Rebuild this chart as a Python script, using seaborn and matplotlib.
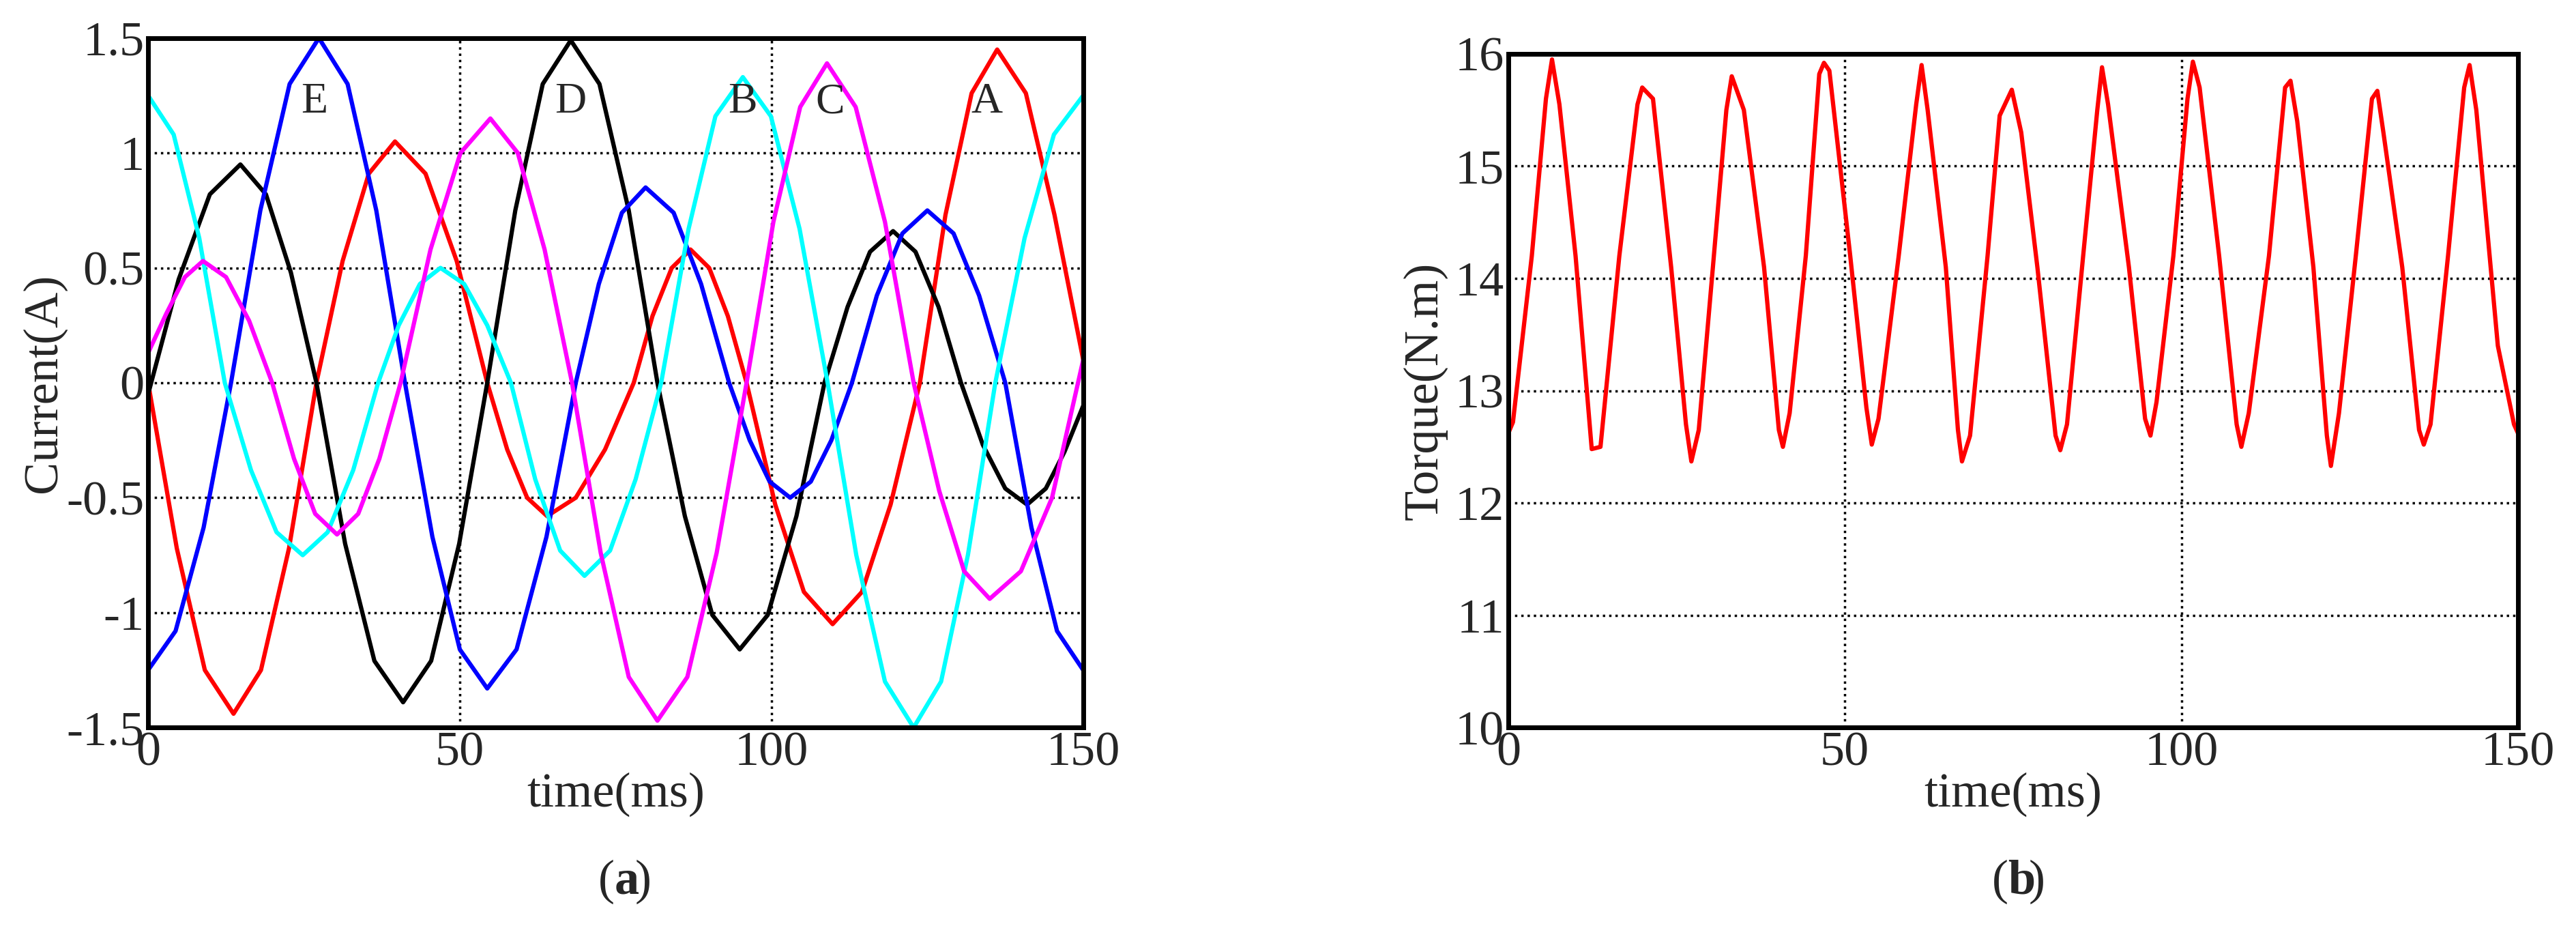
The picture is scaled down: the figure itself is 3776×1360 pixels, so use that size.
import matplotlib
matplotlib.use("Agg")
import matplotlib.pyplot as plt
import pandas as pd
import seaborn as sns

# phase currents
red_t = [0, 4.6, 9.1, 13.7, 18.1, 22.6, 27, 31.2, 35.4, 39.6, 44.5, 49.5, 54.4, 57.6, 60.8, 64, 68.6, 73.3, 77.9,
         80.9, 84, 87, 90, 93, 96, 100.6, 105.2, 109.8, 114.5, 119.1, 123.8, 127.9, 132.1, 136.2, 140.8, 145.4, 150]
red_i = [0, -0.72, -1.25, -1.44, -1.25, -0.72, 0, 0.53, 0.91, 1.05, 0.91, 0.53, 0, -0.29, -0.5, -0.58, -0.5, -0.29, 0,
         0.29, 0.5, 0.58, 0.5, 0.29, 0, -0.53, -0.91, -1.05, -0.91, -0.53, 0, 0.73, 1.26, 1.45, 1.26, 0.73, 0.1]

black_t = [0, 4.9, 9.9, 14.8, 18.9, 22.9, 27, 31.6, 36.3, 40.9, 45.4, 49.9, 54.4, 58.9, 63.3, 67.8, 72.4, 77.1, 81.7,
           86.1, 90.5, 94.9, 99.4, 104, 108.5, 112.2, 115.8, 119.5, 123.1, 126.8, 130.4, 133.9, 137.5, 141, 144, 147, 150]
black_i = [-0.05, 0.45, 0.82, 0.95, 0.82, 0.48, 0, -0.7, -1.21, -1.39, -1.21, -0.7, 0, 0.75, 1.3, 1.49, 1.3, 0.75, 0,
           -0.58, -1.01, -1.16, -1.01, -0.58, 0, 0.33, 0.57, 0.66, 0.57, 0.33, 0, -0.27, -0.46, -0.53, -0.46, -0.3, -0.1]

blue_t = [0, 4.4, 8.9, 13.3, 18, 22.7, 27.4, 32, 36.6, 41.2, 45.6, 50, 54.4, 59.1, 63.9, 68.6, 72.3, 76, 79.8,
          84.3, 88.7, 93.2, 96.5, 99.7, 103, 106.3, 109.6, 112.9, 116.9, 121, 125, 129.2, 133.3, 137.5, 141.7, 145.8, 150]
blue_i = [-1.25, -1.08, -0.63, 0, 0.75, 1.3, 1.5, 1.3, 0.75, 0, -0.67, -1.16, -1.33, -1.16, -0.67, 0, 0.43, 0.74, 0.85,
          0.74, 0.43, 0, -0.25, -0.43, -0.5, -0.43, -0.25, 0, 0.38, 0.65, 0.75, 0.65, 0.38, 0, -0.63, -1.08, -1.25]

cyan_t = [0, 4.1, 8.2, 12.3, 16.5, 20.6, 24.8, 28.8, 32.9, 36.9, 40.2, 43.6, 46.9, 50.7, 54.4, 58.2, 62.1, 66.1, 70,
          74.1, 78.2, 82.3, 86.7, 91, 95.4, 99.9, 104.5, 109, 113.6, 118.2, 122.8, 127.2, 131.5, 135.9, 140.6, 145.3, 150]
cyan_i = [1.25, 1.08, 0.63, 0, -0.38, -0.65, -0.75, -0.65, -0.38, 0, 0.25, 0.43, 0.5, 0.43, 0.25, 0, -0.42, -0.73, -0.84,
          -0.73, -0.42, 0, 0.67, 1.16, 1.33, 1.16, 0.67, 0, -0.75, -1.3, -1.5, -1.3, -0.75, 0, 0.63, 1.08, 1.25]

magenta_t = [0, 2.9, 5.9, 8.8, 12.5, 16.2, 19.9, 23.4, 26.8, 30.3, 33.7, 37.1, 40.5, 45.3, 50.1, 54.9, 59.3, 63.6, 68,
             72.6, 77.1, 81.7, 86.5, 91.2, 96, 100.3, 104.6, 108.9, 113.5, 118.2, 122.8, 126.9, 130.9, 135, 140, 145, 150]
magenta_i = [0.13, 0.3, 0.46, 0.53, 0.46, 0.27, 0, -0.33, -0.57, -0.66, -0.57, -0.33, 0, 0.58, 1.0, 1.15, 1.0, 0.58, 0,
             -0.74, -1.28, -1.47, -1.28, -0.74, 0, 0.7, 1.2, 1.39, 1.2, 0.7, 0, -0.47, -0.82, -0.94, -0.82, -0.5, 0.1]

phase_labels = ["E", "D", "B", "C", "A"]
phase_label_t = [26.7, 67.8, 95.4, 109.4, 134.5]

# torque ripple
torque_t = [0, 0.7, 3.5, 5.6, 6.5, 7.6, 10, 12.4, 13.7, 16.5, 19.2, 19.9, 21.5, 24.2, 26.4, 27.2, 28.3, 30.4, 32.4, 33.2,
            35, 38, 40.2, 40.8, 41.8, 44.2, 46.2, 46.9, 47.7, 50.8, 53.2, 54, 55, 58, 60.6, 61.4, 62.3, 65, 66.8, 67.4,
            68.6, 71.2, 73, 74.8, 76.2, 78.6, 81.3, 82, 83, 85.4, 87.5, 88.2, 89.1, 92.2, 94.6, 95.4, 96.3, 98.8, 100.9,
            101.7, 102.7, 105.6, 108.2, 108.9, 110, 113, 115.4, 116.2, 117.2, 119.6, 121.6, 122.2, 123.4, 125.9, 128.3,
            129.1, 130, 132.8, 135.3, 136, 137, 139.6, 142, 142.8, 143.8, 147, 149.4, 150]
torque_v = [12.62, 12.72, 14.2, 15.6, 15.95, 15.55, 14.2, 12.48, 12.5, 14.2, 15.55, 15.7, 15.6, 14.1, 12.7, 12.37, 12.65,
            14.1, 15.5, 15.8, 15.5, 14.1, 12.65, 12.5, 12.8, 14.2, 15.82, 15.92, 15.85, 14.2, 12.85, 12.52, 12.75, 14.2,
            15.55, 15.9, 15.5, 14.1, 12.65, 12.37, 12.6, 14.2, 15.45, 15.68, 15.3, 14.1, 12.6, 12.47, 12.7, 14.2, 15.5,
            15.88, 15.55, 14.1, 12.75, 12.6, 12.9, 14.2, 15.6, 15.93, 15.7, 14.2, 12.7, 12.5, 12.8, 14.2, 15.7, 15.76,
            15.4, 14.1, 12.6, 12.33, 12.8, 14.2, 15.6, 15.67, 15.3, 14.1, 12.65, 12.52, 12.7, 14.2, 15.7, 15.9, 15.5,
            13.4, 12.7, 12.62]

sns.set_theme(style="white")
plt.rcParams["font.family"] = ["Liberation Serif", "DejaVu Serif"]

FS = 52
fig = plt.figure(figsize=(37.76, 13.6), dpi=100)
ax_a = fig.add_axes([0.0575, 0.216, 0.363, 0.743])
ax_b = fig.add_axes([0.5855, 0.216, 0.392, 0.726])

series = [(red_t, red_i, "red"), (black_t, black_i, "black"), (blue_t, blue_i, "blue"),
          (cyan_t, cyan_i, "cyan"), (magenta_t, magenta_i, "magenta")]
for t, i, c in series:
    df = pd.DataFrame({"t": t, "i": i})
    sns.lineplot(data=df, x="t", y="i", color=c, lw=4.5, ax=ax_a)
for lab, t in zip(phase_labels, phase_label_t):
    ax_a.text(t, 1.22, lab, ha="center", va="center", fontsize=46)

df_tq = pd.DataFrame({"t": torque_t, "T": torque_v})
sns.lineplot(data=df_tq, x="t", y="T", color="red", lw=4.5, ax=ax_b)

ax_a.set_xlim(0, 150)
ax_a.set_ylim(-1.5, 1.5)
ax_a.set_xticks([0, 50, 100, 150])
ax_a.set_yticks([-1.5, -1, -0.5, 0, 0.5, 1, 1.5])
ax_a.set_yticklabels(["-1.5", "-1", "-0.5", "0", "0.5", "1", "1.5"])
ax_a.set_xlabel("time(ms)", fontsize=FS, labelpad=-4)
ax_a.set_ylabel("Current(A)", fontsize=FS, labelpad=0)

ax_b.set_xlim(0, 150)
ax_b.set_ylim(10, 16)
ax_b.set_xticks([0, 50, 100, 150])
ax_b.set_yticks(range(10, 17))
ax_b.set_xlabel("time(ms)", fontsize=FS, labelpad=-4)
ax_b.set_ylabel("Torque(N.m)", fontsize=FS, labelpad=8)

for ax in (ax_a, ax_b):
    ax.grid(True, color="black", linestyle=":", lw=2.5)
    ax.tick_params(labelsize=FS, length=0, pad=4)
    for s in ax.spines.values():
        s.set_color("black")
        s.set_linewidth(5)

fig.text(0.2385, 0.05, "(", fontsize=FS, ha="right", va="center")
fig.text(0.2385, 0.05, "a", fontsize=FS, fontweight="bold", ha="left", va="center")
fig.text(0.2465, 0.05, ")", fontsize=FS, ha="left", va="center")
fig.text(0.7795, 0.05, "(", fontsize=FS, ha="right", va="center")
fig.text(0.7795, 0.05, "b", fontsize=FS, fontweight="bold", ha="left", va="center")
fig.text(0.7875, 0.05, ")", fontsize=FS, ha="left", va="center")

fig.savefig("out.png", dpi=100)
